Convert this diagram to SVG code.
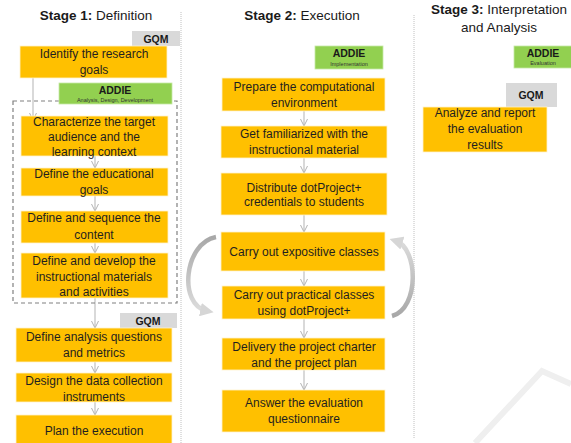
<svg xmlns="http://www.w3.org/2000/svg" width="571" height="443" viewBox="0 0 571 443">
<defs>
<style>
.t{font-family:"Liberation Sans",Arial,sans-serif;font-size:12px;fill:#1f1f1f;text-anchor:middle}
.h{font-family:"Liberation Sans",Arial,sans-serif;font-size:13.5px;fill:#1a1a1a;text-anchor:middle}
.b{font-weight:bold}
.lab{font-family:"Liberation Sans",Arial,sans-serif;font-size:10.5px;font-weight:bold;fill:#1a1a1a;text-anchor:middle}
.sub{font-family:"Liberation Sans",Arial,sans-serif;font-size:5.5px;fill:#333;text-anchor:middle}
.box{fill:#ffc000;stroke:#fff2cc;stroke-width:0.8}
.gqm{fill:#d9d9d9}
.addie{fill:#92d050;stroke:#c5e8a5;stroke-width:0.8}
.con{fill:none;stroke:#b3b3b3;stroke-width:1;marker-end:url(#ah)}
.div{stroke:#c0c0c0;stroke-width:1;stroke-dasharray:1 1}
.arc{fill:none;stroke-width:4.5;marker-end:url(#big)}
</style>
<linearGradient id="gl" x1="0" y1="0" x2="0" y2="1">
<stop offset="0" stop-color="#a8a8a8"/><stop offset="1" stop-color="#dcdcdc"/>
</linearGradient>
<linearGradient id="gr" x1="0" y1="1" x2="0" y2="0">
<stop offset="0" stop-color="#a8a8a8"/><stop offset="1" stop-color="#dcdcdc"/>
</linearGradient>
<marker id="ah" viewBox="0 0 8 8" refX="7" refY="4" markerWidth="8" markerHeight="8" markerUnits="userSpaceOnUse" orient="auto">
<path d="M0,0.5 L7,4 L0,7.5" fill="none" stroke="#b3b3b3" stroke-width="1"/>
</marker>
<marker id="big" viewBox="0 0 10 10" refX="5" refY="5" markerWidth="3" markerHeight="3" orient="auto">
<path d="M0,0 L10,5 L0,10 Z" fill="#d6d6d6"/>
</marker>
</defs>
<rect width="571" height="443" fill="#fff"/>

<g id="watermark">
<polyline points="475,443 542,371 571,384" fill="none" stroke="#efefef" stroke-width="6"/>
</g>

<g id="dividers">
<line class="div" x1="181" y1="12" x2="181" y2="443"/>
<line class="div" x1="414" y1="15" x2="414" y2="438"/>
</g>

<g id="titles">
<text class="h" x="96" y="20"><tspan class="b">Stage 1:</tspan> Definition</text>
<text class="h" x="302" y="20"><tspan class="b">Stage 2:</tspan> Execution</text>
<text class="h" x="499" y="14"><tspan class="b">Stage 3:</tspan> Interpretation</text>
<text class="h" x="499" y="32">and Analysis</text>
</g>

<g id="connectors">
<line class="con" x1="33" y1="78" x2="33" y2="120"/>
<line class="con" x1="95" y1="156" x2="95" y2="168"/>
<line class="con" x1="95" y1="196" x2="95" y2="211"/>
<line class="con" x1="95" y1="243" x2="95" y2="253"/>
<line class="con" x1="95" y1="298" x2="95" y2="328"/>
<line class="con" x1="95" y1="362" x2="95" y2="373"/>
<line class="con" x1="95" y1="402" x2="95" y2="415"/>
<line class="con" x1="304" y1="111" x2="304" y2="126"/>
<line class="con" x1="304" y1="158" x2="304" y2="173"/>
<line class="con" x1="304" y1="215" x2="304" y2="232"/>
<line class="con" x1="304" y1="271" x2="304" y2="286"/>
<line class="con" x1="304" y1="319" x2="304" y2="338"/>
<line class="con" x1="304" y1="370" x2="304" y2="390"/>
<path class="arc" stroke="url(#gl)" d="M216,237 C184,243 178,305 207,311"/>
<path class="arc" stroke="url(#gr)" d="M392,316 C420,308 418,248 396,241"/>
</g>

<g id="dashed-group">
<rect x="13" y="101" width="164" height="202" fill="none" stroke="#808080" stroke-width="1.2" stroke-dasharray="4 3"/>
</g>

<g id="gqm1"><rect class="gqm" x="132" y="31" width="48" height="15"/><text class="lab" x="156" y="42.5">GQM</text></g>
<g id="n-identify"><rect class="box" x="20" y="46" width="147" height="32"/>
<text class="t" x="94" y="58">Identify the research</text><text class="t" x="94" y="74">goals</text></g>
<g id="addie1"><rect class="addie" x="59" y="83" width="113" height="21"/>
<text class="lab" x="115" y="94">ADDIE</text><text class="sub" x="115" y="102">Analysis, Design, Development</text></g>
<g id="n-characterize"><rect class="box" x="21" y="116" width="147" height="40"/>
<text class="t" x="94" y="126">Characterize the target</text><text class="t" x="94" y="141">audience and the</text><text class="t" x="94" y="156">learning context</text></g>
<g id="n-goals"><rect class="box" x="21" y="168" width="147" height="28"/>
<text class="t" x="94" y="178">Define the educational</text><text class="t" x="94" y="194">goals</text></g>
<g id="n-sequence"><rect class="box" x="21" y="211" width="147" height="32"/>
<text class="t" x="94" y="222">Define and sequence the</text><text class="t" x="94" y="239">content</text></g>
<g id="n-develop"><rect class="box" x="21" y="253" width="147" height="45"/>
<text class="t" x="94" y="265">Define and develop the</text><text class="t" x="94" y="281">instructional materials</text><text class="t" x="94" y="296">and activities</text></g>
<g id="gqm2"><rect class="gqm" x="120" y="313" width="57" height="15"/><text class="lab" x="148" y="324.5">GQM</text></g>
<g id="n-questions"><rect class="box" x="16" y="328" width="156" height="34"/>
<text class="t" x="94" y="341">Define analysis questions</text><text class="t" x="94" y="357">and metrics</text></g>
<g id="n-instruments"><rect class="box" x="16" y="373" width="156" height="29"/>
<text class="t" x="94" y="385">Design the data collection</text><text class="t" x="94" y="401">instruments</text></g>
<g id="n-plan"><rect class="box" x="16" y="415" width="156" height="30"/>
<text class="t" x="94" y="435">Plan the execution</text></g>

<g id="addie2"><rect class="addie" x="315" y="46" width="68" height="23"/>
<text class="lab" x="349" y="57">ADDIE</text><text class="sub" x="349" y="66">Implementation</text></g>
<g id="n-prepare"><rect class="box" x="222" y="78" width="163" height="33"/>
<text class="t" x="304" y="91">Prepare the computational</text><text class="t" x="304" y="107">environment</text></g>
<g id="n-familiar"><rect class="box" x="221" y="126" width="166" height="32"/>
<text class="t" x="304" y="138">Get familiarized with the</text><text class="t" x="304" y="154">instructional material</text></g>
<g id="n-distribute"><rect class="box" x="221" y="173" width="166" height="42"/>
<text class="t" x="304" y="192">Distribute dotProject+</text><text class="t" x="304" y="206">credentials to students</text></g>
<g id="n-expositive"><rect class="box" x="221" y="232" width="164" height="39"/>
<text class="t" x="304" y="256">Carry out expositive classes</text></g>
<g id="n-practical"><rect class="box" x="222" y="286" width="163" height="33"/>
<text class="t" x="304" y="299">Carry out practical classes</text><text class="t" x="304" y="315">using dotProject+</text></g>
<g id="n-delivery"><rect class="box" x="222" y="338" width="163" height="32"/>
<text class="t" x="304" y="351">Delivery the project charter</text><text class="t" x="304" y="367">and the project plan</text></g>
<g id="n-answer"><rect class="box" x="222" y="390" width="163" height="42"/>
<text class="t" x="304" y="407">Answer the evaluation</text><text class="t" x="304" y="423">questionnaire</text></g>

<g id="addie3"><rect class="addie" x="514" y="46" width="58" height="22"/>
<text class="lab" x="543" y="57">ADDIE</text><text class="sub" x="543" y="65">Evaluation</text></g>
<g id="gqm3"><rect class="gqm" x="506" y="83" width="51" height="24"/><text class="lab" x="531" y="99">GQM</text></g>
<g id="n-analyze"><rect class="box" x="423" y="107" width="124" height="45"/>
<text class="t" x="485" y="117">Analyze and report</text><text class="t" x="485" y="133">the evaluation</text><text class="t" x="485" y="149">results</text></g>
</svg>
